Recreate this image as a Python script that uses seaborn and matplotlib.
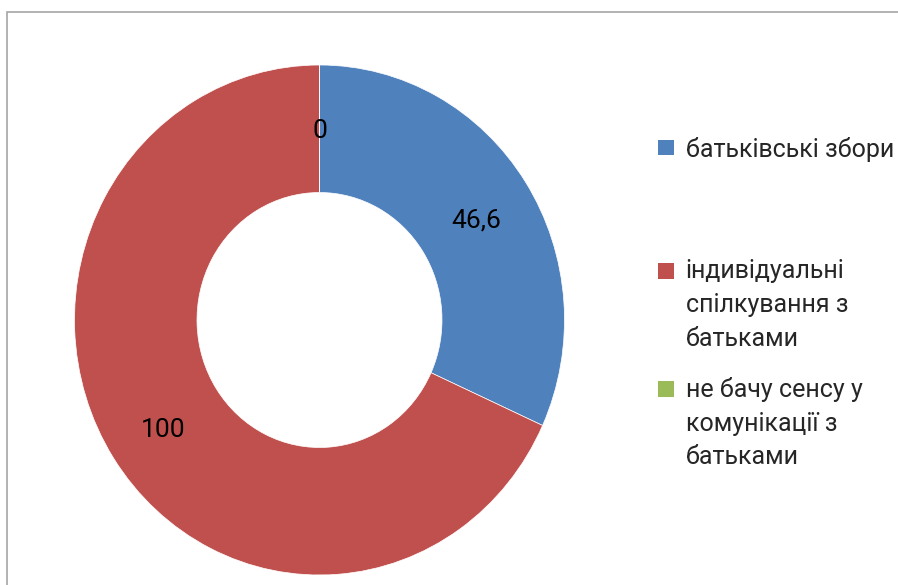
import seaborn as sns
import matplotlib.pyplot as plt
import matplotlib.patches as mpatches
from matplotlib.legend_handler import HandlerPatch

sns.set_theme(style="white")
plt.rcParams['font.family'] = ['Roboto', 'DejaVu Sans']

# data
categories = ["батьківські збори",
              "індивідуальні\nспілкування з\nбатьками",
              "не бачу сенсу у\nкомунікації з\nбатьками"]
values = [46.6, 100, 0]
colors = ["#4F81BD", "#C0504D", "#9BBB59"]

W, H = 898, 585
FS = 18
LS = 1.52
fig = plt.figure(figsize=(W / 100, H / 100), dpi=100)

# gray outer frame (chart area border)
fig.patches.append(mpatches.Rectangle((7 / W, -0.1), 1.2, 1.1 - 12 / H,
                                      transform=fig.transFigure, fill=False,
                                      edgecolor="#A6A6A6", linewidth=1.2))

# donut: center (319.5, 320) px, radii 245 x 255 px (slightly stretched like the original)
cx, cy, rx, ry = 319.5, 320, 245, 255
ax = fig.add_axes([(cx - rx) / W, (H - cy - ry) / H, 2 * rx / W, 2 * ry / H])
total = sum(values)


def fmt(p):
    v = p * total / 100
    s = f"{v:.1f}".rstrip("0").rstrip(".")
    return s.replace(".", ",")


wedges, _, autotexts = ax.pie(values, colors=colors, startangle=90, counterclock=False,
                              radius=1, autopct=fmt, pctdistance=0.76,
                              wedgeprops=dict(width=0.5, edgecolor="white", linewidth=0.5),
                              textprops=dict(fontsize=19, color="black"))
# labels sit a touch lower in the original
for t in autotexts:
    x, y = t.get_position()
    t.set_position((x, y - 0.02))
ax.set_xlim(-1, 1)
ax.set_ylim(-1, 1)
ax.set_aspect("auto")
ax.axis("off")


# legend: marker aligned with the first line of each label
class FirstLineHandler(HandlerPatch):
    def __init__(self, nlines, **kw):
        super().__init__(**kw)
        self.nlines = nlines

    def create_artists(self, legend, orig_handle, xdescent, ydescent,
                       width, height, fontsize, trans):
        off = (self.nlines - 1) / 2 * LS * fontsize * 0.91
        s = 0.62 * fontsize
        p = mpatches.Rectangle((-xdescent, -ydescent + off + (height - s) / 2), s, s,
                               facecolor=orig_handle.get_facecolor(), edgecolor="none",
                               transform=trans)
        return [p]


anchors = [(658, 149), (658, 305), (658, 423)]
for lab, col, (lx, ly) in zip(categories, colors, anchors):
    h = mpatches.Patch(color=col)
    leg = fig.legend([h], [lab], loc="center left", bbox_to_anchor=(lx / W, 1 - ly / H),
                     frameon=False, fontsize=FS, handlelength=0.62, handleheight=0.62,
                     handletextpad=0.48, borderpad=0, borderaxespad=0,
                     handler_map={h: FirstLineHandler(lab.count("\n") + 1)})
    for t in leg.get_texts():
        t.set_linespacing(LS)

fig.savefig("out.png", dpi=100)
